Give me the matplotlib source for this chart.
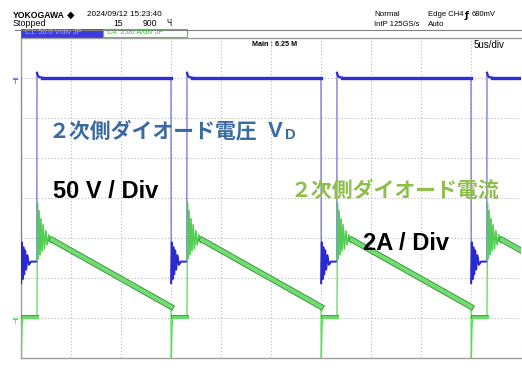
import matplotlib
matplotlib.use('Agg')
import matplotlib.pyplot as plt
import matplotlib.patheffects as pe
from matplotlib.patches import Rectangle
from matplotlib.lines import Line2D

W, H = 522, 371

# falling edges of the diode voltage (us), 5 us/div, 10 div on screen
fall_times = [0.0, 15.0, 30.0, 45.0]
end_time = 60.0
x_divs = list(range(0, 55, 5))
y_divs = list(range(-4, 5))

# CH1 diode voltage (50 V/div): offsets from each falling edge (us) and values (V)
vd_off = [0.0, 0.02, 0.08, 0.16, 0.24, 0.32, 0.42, 0.52, 0.64, 0.8, 1.0, 1.58, 1.6, 1.7, 1.85, 2.1]
vd_val = [2, -255, -204, -250, -210, -244, -214, -238, -220, -232, -228, -228, 8, 4, 2.5, 2]

# CH4 diode current (2 A/div): offsets from each falling edge (us) and values (A)
id_off = [0.0, 0.02, 0.1, 0.2, 1.6, 1.65, 1.72, 1.8, 1.9, 2.0, 2.1, 2.22, 2.34, 2.48, 2.62, 2.78, 2.95, 3.1]
id_val = [0.6, -2.6, -0.4, 0.1, 0.1, 5.8, 3.0, 5.4, 3.2, 5.0, 3.4, 4.7, 3.5, 4.4, 3.7, 4.2, 3.8, 3.95]
id_ramp_end = 0.6

ch1_scale, ch1_pos = 50, 2.97
ch4_scale, ch4_pos = 2, -3.02

# build the traces
vt, vv, it, iv = [], [], [], []
for tf in fall_times:
    vt += [tf + o for o in vd_off]
    vv += vd_val
    it += [tf + o for o in id_off]
    iv += id_val
vt.append(end_time)
vv.append(vd_val[-1])
it.append(end_time)
iv.append(id_ramp_end)


def fx(px):
    return px / W


def fy(py):
    return 1 - py / H


fig = plt.figure(figsize=(W / 100, H / 100), dpi=100)
ax = fig.add_axes([fx(21), fy(358), 500 / W, 320 / H])
ax.set_xlim(0, 50)
ax.set_ylim(-(4 + ch1_pos) * ch1_scale, (4 - ch1_pos) * ch1_scale)
ax2 = ax.twinx()
ax2.set_ylim((-4 - ch4_pos) * ch4_scale, (4 - ch4_pos) * ch4_scale)

# grid in divisions
axg = fig.add_axes(ax.get_position(), zorder=-1)
axg.set_xlim(0, 50)
axg.set_ylim(-4, 4)
axg.set_xticks(x_divs)
axg.set_yticks(y_divs)
axg.grid(True, ls=(0, (1, 2)), color='#b8b8b8', lw=0.8)
axg.tick_params(length=0, labelbottom=False, labelleft=False)
for a in (ax, ax2):
    a.set_xticks([])
    a.set_yticks([])
    a.patch.set_visible(False)
    for s in a.spines.values():
        s.set_visible(False)
axg.spines['right'].set_visible(False)
for side in ('left', 'bottom', 'top'):
    axg.spines[side].set_color('#a0a0a0')
    axg.spines[side].set_linewidth(1.0)

# thin full traces
ax.plot(vt, vv, color='#7070d0', lw=0.9, zorder=3)
ax2.plot(it, iv, color='#55dd55', lw=0.9, zorder=3)

# heavier parts of the traces
n = len(vd_off)
for k, tf in enumerate(fall_times):
    seg_t = vt[k * n:(k + 1) * n]
    seg_v = vv[k * n:(k + 1) * n]
    ax.plot(seg_t[1:12], seg_v[1:12], color='#2a2ad0', lw=1.4, zorder=4)
    nxt = vt[(k + 1) * n] if k + 1 < len(fall_times) else end_time
    ax.plot([seg_t[-1], nxt], [seg_v[-1], seg_v[-1]], color='#2e2ed8', lw=2.4, zorder=4)
    ax.plot(seg_t[12:], seg_v[12:], color='#2e2ed8', lw=1.6, zorder=4)

m = len(id_off)
for k, tf in enumerate(fall_times):
    seg_t = it[k * m:(k + 1) * m]
    seg_i = iv[k * m:(k + 1) * m]
    ax2.plot(seg_t[3:5], seg_i[3:5], color='#66dd66', lw=2.2, zorder=4,
             path_effects=[pe.Stroke(linewidth=2.8, foreground='#3a9e3a'), pe.Normal()])
    ax2.plot(seg_t[5:], seg_i[5:], color='#55cc55', lw=1.0, zorder=4)
    nxt_t = it[(k + 1) * m] if k + 1 < len(fall_times) else end_time
    ax2.plot([seg_t[-1], nxt_t], [seg_i[-1], id_ramp_end], color='#72dc72', lw=3.0, zorder=4,
             path_effects=[pe.Stroke(linewidth=4.2, foreground='#2e8e2e'), pe.Normal()])

# ground markers
ax.text(-0.012, 0, '\u2564', transform=ax.get_yaxis_transform(), color='#4040d0',
        fontsize=6, ha='center', va='center', clip_on=False)
ax2.text(-0.012, 0, '\u2564', transform=ax2.get_yaxis_transform(), color='#33cc33',
         fontsize=6, ha='center', va='center', clip_on=False)

# header
hdr = 'Liberation Sans'
fig.text(fx(13), fy(15), 'YOKOGAWA', family=hdr, fontsize=6.2, weight='bold', va='center')
fig.text(fx(67), fy(15), '\u25c6', family='DejaVu Sans', fontsize=7, va='center')
fig.text(fx(87), fy(15), '2024/09/12 15:23:40', family=hdr, fontsize=5.9, va='center')
fig.text(fx(13), fy(24), 'Stopped', family=hdr, fontsize=6.4, va='center')
fig.text(fx(113), fy(24), '15', family=hdr, fontsize=6.2, va='center')
fig.text(fx(143), fy(24), '900', family=hdr, fontsize=6.2, va='center')
fig.text(fx(166), fy(24), '\u0427', family='DejaVu Sans', fontsize=5.5, va='center')
fig.text(fx(374), fy(15), 'Normal', family=hdr, fontsize=5.8, va='center')
fig.text(fx(374), fy(25), 'IntP 125GS/s', family=hdr, fontsize=5.5, va='center')
fig.text(fx(428), fy(15), 'Edge CH4', family=hdr, fontsize=5.5, va='center')
fig.text(fx(465), fy(15), '\u0192', family='DejaVu Sans', fontsize=6.5, weight='bold', va='center')
fig.text(fx(472), fy(15), '680mV', family=hdr, fontsize=5.5, va='center')
fig.text(fx(428), fy(25), 'Auto', family=hdr, fontsize=5.8, va='center')
fig.add_artist(Line2D([fx(15), 1], [fy(29.5), fy(29.5)], color='#808080', lw=0.8))
fig.add_artist(Rectangle((fx(21), fy(37)), fx(82), 8 / H, facecolor='#3c3cdc',
                         edgecolor='#3c3cdc', lw=0.6))
fig.add_artist(Rectangle((fx(103), fy(37)), fx(84), 8 / H, facecolor='white',
                         edgecolor='#33dd33', lw=0.8))
fig.text(fx(25), fy(33), 'C1: 50.0 V/div JP', family=hdr, fontsize=5.3, color='#a0a6ff', va='center')
fig.text(fx(107), fy(33), 'C4: 2.00 A/div JP', family=hdr, fontsize=5.3, color='#22cc22', va='center')
fig.text(fx(252), fy(44), 'Main : 6.25 M', family=hdr, fontsize=5.2, weight='bold', va='center')
fig.text(fx(474), fy(45), '5us/div', family=hdr, fontsize=7, va='center')

# annotations
jp = ['Noto Sans CJK JP', 'DejaVu Sans']
blue_txt = '#3b6aa2'
fig.text(fx(49), fy(131), '\uff12\u6b21\u5074\u30c0\u30a4\u30aa\u30fc\u30c9\u96fb\u5727',
         family=jp, fontsize=15, weight='bold', color=blue_txt, va='center', zorder=10)
fig.text(fx(268), fy(131), 'V', family='Liberation Sans', fontsize=16, weight='bold',
         color=blue_txt, va='center', zorder=10)
fig.text(fx(285), fy(135), 'D', family='Liberation Sans', fontsize=10.5, weight='bold',
         color=blue_txt, va='center', zorder=10)
fig.text(fx(53), fy(192), '50 V / Div', family='Liberation Sans', fontsize=17,
         weight='bold', color='black', va='center', zorder=10)
fig.text(fx(291), fy(190), '\uff12\u6b21\u5074\u30c0\u30a4\u30aa\u30fc\u30c9\u96fb\u6d41',
         family=jp, fontsize=15, weight='bold', color='#8dbf4a', va='center', zorder=10)
fig.text(fx(363), fy(243), '2A / Div', family='Liberation Sans', fontsize=17,
         weight='bold', color='black', va='center', zorder=10)

fig.savefig('out.png', dpi=100)
